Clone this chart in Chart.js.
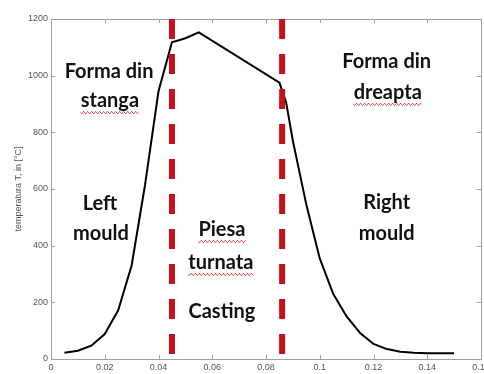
<!DOCTYPE html>
<html>
<head>
<meta charset="utf-8">
<script src="https://cdn.jsdelivr.net/npm/chart.js"></script>
<style>
  html, body { margin: 0; padding: 0; background: #fff; overflow: hidden; }
  #wrap { width: 496px; height: 390px; }
</style>
</head>
<body>
<div id="wrap"><canvas id="grafic" width="496" height="390"></canvas></div>
<script>
// valori
const xTicks = [0, 0.02, 0.04, 0.06, 0.08, 0.1, 0.12, 0.14, 0.16];
const yTicks = [0, 200, 400, 600, 800, 1000, 1200];
const pozitie = [0.005, 0.01, 0.015, 0.02, 0.025, 0.03, 0.035, 0.04, 0.045, 0.05, 0.055,
                 0.085, 0.0875, 0.09, 0.095, 0.1, 0.105, 0.11, 0.115, 0.12, 0.125, 0.13, 0.135, 0.14, 0.145, 0.15];
const temperatura = [22, 29, 47, 88, 172, 330, 615, 945, 1118, 1132, 1153,
                     975, 905, 770, 545, 355, 230, 150, 92, 53, 35, 26, 22, 20, 20, 20];
const limite = [0.045, 0.086];

// texte pe grafic (pozitii in unitati de date)
const texte = [
  { text: 'Forma din', x: 0.0216, y: 992 },
  { text: 'stanga', x: 0.0219, y: 889, wavy: true },
  { text: 'Left', x: 0.0182, y: 526 },
  { text: 'mould', x: 0.0186, y: 420 },
  { text: 'Piesa', x: 0.0636, y: 434, wavy: true },
  { text: 'turnata', x: 0.0632, y: 318, wavy: true },
  { text: 'Casting', x: 0.0636, y: 145 },
  { text: 'Forma din', x: 0.1249, y: 1027 },
  { text: 'dreapta', x: 0.1253, y: 918, wavy: true },
  { text: 'Right', x: 0.1249, y: 529 },
  { text: 'mould', x: 0.1249, y: 420 }
];

const GRI = '#a0a0a0';

// cadru MATLAB cu tick-uri spre interior
const cadru = {
  id: 'cadru',
  beforeDatasetsDraw(chart) {
    const { ctx, chartArea: a, scales: { x, y } } = chart;
    ctx.save();
    ctx.strokeStyle = GRI;
    ctx.lineWidth = 1;
    ctx.strokeRect(a.left + 0.5, a.top + 0.5, a.right - a.left, a.bottom - a.top);
    ctx.beginPath();
    x.ticks.forEach(t => {
      const px = Math.round(x.getPixelForValue(t.value)) + 0.5;
      ctx.moveTo(px, a.bottom); ctx.lineTo(px, a.bottom - 4);
      ctx.moveTo(px, a.top); ctx.lineTo(px, a.top + 4);
    });
    y.ticks.forEach(t => {
      const py = Math.round(y.getPixelForValue(t.value)) + 0.5;
      ctx.moveTo(a.left, py); ctx.lineTo(a.left + 4, py);
      ctx.moveTo(a.right, py); ctx.lineTo(a.right - 4, py);
    });
    ctx.stroke();
    ctx.restore();
  }
};

const etichete = {
  id: 'etichete',
  afterDraw(chart) {
    const { ctx, scales: { x, y } } = chart;
    ctx.save();
    ctx.font = 'bold 20px Lato';
    ctx.fillStyle = '#111';
    ctx.textAlign = 'center';
    ctx.textBaseline = 'alphabetic';
    texte.forEach(t => {
      const px = x.getPixelForValue(t.x);
      const py = y.getPixelForValue(t.y);
      ctx.fillText(t.text, px, py);
      if (t.wavy) {
        const w = ctx.measureText(t.text).width;
        ctx.beginPath();
        ctx.strokeStyle = '#e03030';
        ctx.lineWidth = 1;
        for (let i = 0; i <= w; i += 1) {
          const yy = py + 5.5 + Math.sin(i * Math.PI / 2) * 1.2;
          if (i === 0) ctx.moveTo(px - w / 2 + i, yy); else ctx.lineTo(px - w / 2 + i, yy);
        }
        ctx.stroke();
      }
    });
    ctx.restore();
  }
};

const linieRosie = xv => ({
  data: [{ x: xv, y: 1200 }, { x: xv, y: 0 }],
  borderColor: '#c4121c',
  borderWidth: 6,
  borderDash: [20, 15],
  borderCapStyle: 'butt',
  pointRadius: 0,
  order: 0
});

new Chart(document.getElementById('grafic'), {
  type: 'line',
  data: {
    datasets: [
      {
        data: pozitie.map((p, i) => ({ x: p, y: temperatura[i] })),
        borderColor: '#000',
        borderWidth: 2,
        pointRadius: 0,
        tension: 0,
        order: 1
      },
      ...limite.map(linieRosie)
    ]
  },
  options: {
    responsive: false,
    animation: false,
    layout: { padding: { top: 19, right: 15, left: 0, bottom: 0 } },
    plugins: { legend: { display: false }, tooltip: { enabled: false } },
    scales: {
      x: {
        type: 'linear',
        min: 0, max: 0.16,
        afterBuildTicks: s => { s.ticks = xTicks.map(v => ({ value: v })); },
        afterFit: s => { s.height = 31; },
        grid: { display: false, drawTicks: false },
        border: { display: false },
        ticks: {
          padding: 3,
          color: '#555',
          font: { family: 'Arial', size: 9 },
          maxRotation: 0,
          callback: v => String(+v.toFixed(2))
        }
      },
      y: {
        min: 0, max: 1200,
        afterBuildTicks: s => { s.ticks = yTicks.map(v => ({ value: v })); },
        afterFit: s => { s.width = 51; },
        grid: { display: false, drawTicks: false },
        border: { display: false },
        title: {
          display: true,
          text: 'temperatura T, in [°C]',
          color: '#555',
          font: { family: 'Arial', size: 9 },
          padding: { top: 13, bottom: 0 }
        },
        ticks: {
          padding: 3,
          color: '#555',
          font: { family: 'Arial', size: 9 },
          callback: v => String(v)
        }
      }
    }
  },
  plugins: [cadru, etichete]
});
</script>
</body>
</html>
